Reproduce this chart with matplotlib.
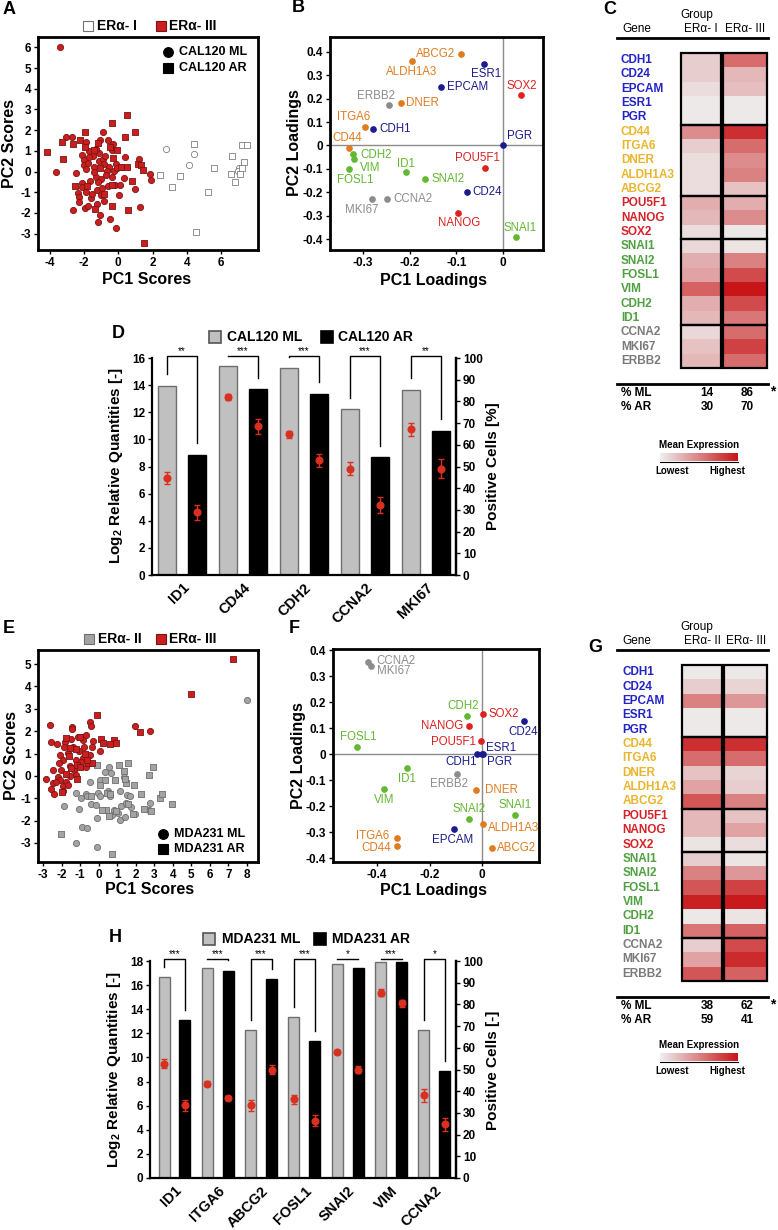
import matplotlib
matplotlib.use('Agg')
import matplotlib.pyplot as plt
from matplotlib.colors import LinearSegmentedColormap
from matplotlib.patches import Rectangle
from matplotlib.lines import Line2D
from matplotlib.ticker import FuncFormatter
from matplotlib.transforms import blended_transform_factory
import numpy as np

plt.rcParams['font.family'] = ['Liberation Sans', 'DejaVu Sans']
plt.rcParams['font.weight'] = 'bold'
plt.rcParams['axes.unicode_minus'] = False
plt.rcParams['mathtext.fontset'] = 'custom'
plt.rcParams['mathtext.rm'] = 'Liberation Sans'
plt.rcParams['mathtext.bf'] = 'Liberation Sans:bold'

W, H = 778, 1230

# ---------------- data ----------------
genes = ["CDH1", "CD24", "EPCAM", "ESR1", "PGR",
         "CD44", "ITGA6", "DNER", "ALDH1A3", "ABCG2",
         "POU5F1", "NANOG", "SOX2",
         "SNAI1", "SNAI2", "FOSL1", "VIM", "CDH2", "ID1",
         "CCNA2", "MKI67", "ERBB2"]
gene_group = ["epi"] * 5 + ["stem"] * 5 + ["pluri"] * 3 + ["emt"] * 6 + ["prol"] * 3
group_sizes = [5, 5, 3, 6, 3]

# panel A: CAL120 PCA scores
a_ml_iii = [(-3.40, 6.0), (-3.65, -0.03), (-3.03, 1.66), (-2.68, 1.66), (-1.86, 1.42), (-2.47, -0.08),
            (-2.64, -1.85), (-2.33, -1.05), (-2.29, -1.23), (-2.29, -1.48), (-2.14, -0.55), (-2.10, 0.80),
            (-2.02, 0.56), (-1.98, 0.32), (-1.96, -1.74), (-1.77, -1.67), (-1.86, 0.12), (-1.79, 0.43),
            (-1.67, -0.46), (-1.59, -1.30), (-1.53, -1.07), (-1.46, 0.77), (-1.40, 0.23), (-1.32, -0.25),
            (-1.24, -0.87), (-1.20, -2.45), (-1.24, -1.56), (-1.15, 0.89), (-1.11, 0.52), (-1.09, 1.50),
            (-1.03, -0.37), (-0.99, -1.15), (-1.05, -2.09), (-0.87, 0.62), (-0.89, 1.90), (-0.78, 0.77),
            (-0.83, -1.40), (-0.60, -0.72), (-0.54, 0.23), (-0.47, -2.28), (-0.39, 1.04), (-0.35, -0.27),
            (-0.31, 1.31), (-0.21, -0.67), (-0.16, 0.35), (-0.25, 0.03), (-0.12, -2.73), (-0.06, 0.15),
            (0.12, -0.67), (0.23, 0.24), (0.40, 0.69), (0.33, -0.33), (0.95, -0.83), (1.20, 0.61),
            (1.24, -1.69), (1.86, -0.14), (1.90, -0.40), (-1.71, 1.01), (-1.28, 1.09), (-0.58, 1.50),
            (-1.71, 0.72), (-2.14, -0.75), (-0.85, 0.35), (-1.44, 0.0), (-0.66, 0.03), (0.04, -1.15),
            (-0.74, -0.17), (-1.17, -0.52), (-0.93, -0.80), (-1.90, -1.0)]
a_ar_iii = [(-4.17, 0.94), (-3.30, 1.42), (-3.22, 0.59), (-2.64, 1.31), (-2.21, 1.53), (-1.92, 1.90),
            (-2.52, -0.69), (-1.94, 1.17), (-1.83, -0.68), (-1.44, 1.06), (-1.38, -1.80), (-1.18, 1.38),
            (-1.07, 0.16), (-0.85, -1.07), (-0.50, 1.19), (-0.35, 2.33), (-0.31, 0.66), (-0.37, -0.63),
            (-0.37, -1.68), (-0.08, 1.04), (0.17, 0.20), (0.39, 1.66), (0.50, 2.74), (0.52, 0.20),
            (0.78, -0.47), (0.97, 1.90), (0.56, -1.85), (1.15, 0.37), (1.30, 0.33), (1.44, 0.08),
            (1.48, -3.45)]
a_ml_i = [(2.78, 1.10), (4.41, 0.84), (4.14, 0.34), (7.02, 0.16), (6.96, 0.04)]
a_ar_i = [(4.41, 1.32), (5.57, 0.15), (2.41, -0.18), (3.13, -0.75), (3.57, -0.23), (5.21, -0.99),
          (4.50, -2.92), (6.62, 0.76), (7.20, 1.27), (7.49, 1.30), (7.34, 0.47), (7.18, 0.18),
          (6.58, -0.12), (7.09, -0.14), (6.80, -0.51)]

# panel B: CAL120 loadings (gene order)
b_pc1 = [-0.279, -0.076, -0.132, -0.041, 0.0, -0.331, -0.296, -0.219, -0.196, -0.089, -0.039,
         -0.097, 0.039, 0.029, -0.167, -0.331, -0.319, -0.322, -0.209, -0.249, -0.281, -0.244]
b_pc2 = [0.07, -0.197, 0.25, 0.35, 0.0, -0.01, 0.08, 0.18, 0.36, 0.39, -0.098,
         -0.289, 0.214, -0.39, -0.145, -0.10, -0.058, -0.035, -0.114, -0.23, -0.23, 0.175]

# panel C heatmap (0 = lowest, 1 = highest)
c_er_i = [0.15, 0.15, 0.08, 0.02, 0.02, 0.45, 0.15, 0.08, 0.08, 0.08, 0.30,
          0.25, 0.08, 0.10, 0.30, 0.35, 0.65, 0.30, 0.25, 0.10, 0.20, 0.25]
c_er_iii = [0.60, 0.25, 0.22, 0.02, 0.02, 0.88, 0.60, 0.45, 0.50, 0.20, 0.30,
            0.45, 0.03, 0.05, 0.50, 0.75, 1.00, 0.75, 0.55, 0.60, 0.80, 0.60]
c_pct_ml = ["14", "86"]
c_pct_ar = ["30", "70"]

# panel D: CAL120 qPCR + positive cells
d_genes = ["ID1", "CD44", "CDH2", "CCNA2", "MKI67"]
d_ml = [13.97, 15.43, 15.26, 12.22, 13.65]
d_ar = [8.86, 13.68, 13.36, 8.69, 10.64]
d_ml_pct = [44.6, 82.0, 64.8, 49.0, 67.2]
d_ml_err = [2.7, 1.5, 1.5, 3.0, 3.0]
d_ar_pct = [28.9, 68.5, 52.8, 32.3, 49.0]
d_ar_err = [3.5, 3.5, 3.0, 3.5, 4.5]
d_sig = ["**", "***", "***", "***", "**"]

# panel E: MDA231 PCA scores
e_ml_iii = [(-2.64, 2.26), (-1.45, 2.18), (-1.42, 2.09), (-0.48, 2.41), (-0.43, 2.24), (1.96, 2.24),
            (2.79, 2.02), (-2.55, 1.53), (-2.24, 1.42), (-1.83, 1.53), (-1.47, 1.65), (-1.11, 1.74),
            (-0.91, 1.74), (-0.66, 1.81), (-0.84, 1.61), (-0.30, 1.57), (-1.88, 1.29), (-1.38, 1.29),
            (-0.81, 1.29), (-0.37, 1.29), (-2.10, 0.95), (-1.65, 1.02), (-1.06, 1.13), (0.06, 1.10),
            (-1.92, 0.72), (-1.24, 0.69), (-0.84, 0.80), (-0.45, 0.95), (-2.14, 0.57), (-1.53, 0.45),
            (-0.93, 0.60), (-0.63, 0.69), (-2.46, 0.28), (-2.01, 0.28), (-1.35, 0.25), (-0.66, 0.42),
            (-2.82, -0.14), (-2.19, -0.05), (-2.10, -0.17), (-1.56, -0.02), (-1.24, 0.05), (-2.46, -0.32),
            (-1.74, -0.29), (-2.28, -0.29), (-1.92, -0.44), (-2.55, -0.57), (-2.42, -0.80), (-1.92, -0.69),
            (-1.65, -0.39)]
e_ar_iii = [(-0.07, 2.72), (2.22, 1.97), (7.25, 5.24), (4.97, 3.66), (-1.74, 1.71), (-1.02, 1.75),
            (0.15, 1.65), (0.81, 1.59), (0.96, 1.47), (0.60, 1.44), (0.24, 1.47), (-1.53, 1.23),
            (-1.20, 1.21), (-1.60, 0.87), (-0.75, 0.98), (-1.49, 0.35), (-1.17, 0.50), (-0.55, 0.57),
            (-0.37, 0.57), (-1.74, 0.10), (-1.17, -0.14), (-1.96, -0.74), (-0.63, 0.72), (-1.02, 0.42)]
e_ml_ii = [(8.0, 3.41), (-1.88, -1.36), (-1.24, -0.77), (-1.06, -1.48), (-0.70, -0.80), (-0.63, -0.89),
           (-0.93, -0.99), (-0.39, -1.24), (-0.12, -1.29), (-0.45, -0.29), (-0.03, -0.77), (0.06, -0.89),
           (0.09, -0.17), (0.35, 0.16), (0.56, 0.40), (0.69, 0.13), (0.51, -0.69), (0.60, -0.89),
           (0.71, -1.74), (0.84, -1.51), (-0.09, -1.89), (-0.88, -2.29), (-0.61, -2.35), (-1.20, -3.0),
           (-0.07, -3.18), (1.35, -0.05), (1.22, -1.33), (1.17, -1.99), (1.46, -1.21), (1.77, -1.39),
           (1.95, -1.69), (2.76, -1.20), (2.72, -1.51), (1.14, -0.69), (1.53, -0.84), (1.67, -0.89),
           (1.05, -1.66), (1.41, -1.84)]
e_ar_ii = [(-2.01, -2.59), (0.71, -3.48), (-0.09, 0.50), (0.33, -0.17), (0.89, -0.17), (1.08, 0.48),
           (1.59, 0.57), (1.35, 0.20), (1.50, -0.32), (1.41, -0.14), (1.90, -0.41), (2.94, 0.38),
           (2.72, 0.05), (2.31, -0.80), (3.29, -0.99), (3.42, -0.81), (3.98, -1.26), (2.45, -1.46),
           (2.85, -1.59), (1.59, -1.26), (1.83, -1.69), (0.06, -0.39), (0.45, -0.77), (0.42, -1.51),
           (0.20, -1.54), (0.56, -1.81), (0.96, -1.59), (0.60, -0.80), (-0.39, -0.89)]

# panel F: MDA231 loadings (gene order)
f_pc1 = [-0.02, 0.159, -0.106, 0.0, 0.004, -0.326, -0.326, -0.024, 0.005, 0.037, -0.004,
         -0.05, 0.003, 0.125, -0.05, -0.478, -0.374, -0.057, -0.287, -0.435, -0.424, -0.097]
f_pc2 = [0.0, 0.128, -0.29, 0.0, 0.0, -0.353, -0.324, -0.138, -0.27, -0.363, 0.052,
         0.108, 0.155, -0.235, -0.25, 0.026, -0.135, 0.147, -0.053, 0.355, 0.34, -0.076]

# panel G heatmap
g_er_ii = [0.02, 0.15, 0.50, 0.02, 0.02, 0.88, 0.60, 0.20, 0.35, 0.70, 0.25,
           0.25, 0.05, 0.15, 0.50, 0.70, 0.95, 0.03, 0.55, 0.15, 0.35, 0.70]
g_er_iii = [0.03, 0.12, 0.40, 0.02, 0.02, 0.88, 0.60, 0.12, 0.15, 0.50, 0.20,
            0.35, 0.08, 0.05, 0.40, 0.80, 0.98, 0.05, 0.65, 0.75, 0.90, 0.65]
g_pct_ml = ["38", "62"]
g_pct_ar = ["59", "41"]

# panel H: MDA231 qPCR + positive cells
h_genes = ["ID1", "ITGA6", "ABCG2", "FOSL1", "SNAI2", "VIM", "CCNA2"]
h_ml = [16.67, 17.4, 12.25, 13.35, 17.75, 17.9, 12.25]
h_ar = [13.1, 17.2, 16.5, 11.37, 17.4, 17.95, 8.85]
h_ml_pct = [52.7, 43.5, 33.6, 36.3, 58.0, 85.4, 38.2]
h_ml_err = [2.0, 1.0, 2.5, 2.0, 1.0, 1.5, 3.0]
h_ar_pct = [33.6, 36.9, 49.9, 26.4, 49.9, 80.5, 24.7]
h_ar_err = [2.5, 1.0, 2.0, 2.5, 1.5, 1.5, 3.0]
h_sig = ["***", "***", "***", "***", "*", "***", "*"]

# label placement for loadings plots: (dx px, dy px, ha)
b_lab = {"CDH1": (6, 0, 'left'), "CD24": (5, 0, 'left'), "EPCAM": (6, 0, 'left'),
         "ESR1": (2, -10, 'center'), "PGR": (4, 9, 'left'), "CD44": (-1, 10, 'center'),
         "ITGA6": (-11, 10, 'center'), "DNER": (5, 0, 'left'), "ALDH1A3": (0, -11, 'center'),
         "ABCG2": (-6, 0, 'right'), "POU5F1": (-7, 10, 'center'), "NANOG": (1, -10, 'center'),
         "SOX2": (1, 9, 'center'), "SNAI1": (4, 9, 'center'), "SNAI2": (6, 0, 'left'),
         "FOSL1": (7, -11, 'center'), "VIM": (6, -9, 'left'), "CDH2": (8, -1, 'left'),
         "ID1": (0, 8, 'center'), "CCNA2": (7, 0, 'left'), "MKI67": (-10, -11, 'center'),
         "ERBB2": (-13, 9, 'center')}
f_lab = {"CDH1": (-16, -8, 'center'), "CD24": (-1, -11, 'center'), "EPCAM": (-2, -11, 'center'),
         "ESR1": (4, 6, 'left'), "PGR": (4, -8, 'left'), "CD44": (-5, -2, 'right'),
         "ITGA6": (-7, 2, 'right'), "DNER": (9, 0, 'left'), "ALDH1A3": (5, -4, 'left'),
         "ABCG2": (5, 0, 'left'), "POU5F1": (-5, -1, 'right'), "NANOG": (-6, 0, 'right'),
         "SOX2": (6, 0, 'left'), "SNAI1": (0, 10, 'center'), "SNAI2": (0, 10, 'center'),
         "FOSL1": (2, 10, 'center'), "VIM": (0, -11, 'center'), "CDH2": (-4, 10, 'center'),
         "ID1": (0, -11, 'center'), "CCNA2": (8, 1, 'left'), "MKI67": (6, -5, 'left'),
         "ERBB2": (-8, -10, 'center')}

LOAD_COL = {"epi": "#1c1c8c", "stem": "#e07b20", "pluri": "#dd2020", "emt": "#62b830", "prol": "#8c8c8c"}
HEAT_COL = {"epi": "#2323c8", "stem": "#e9b52c", "pluri": "#d42228", "emt": "#4fa040", "prol": "#7a7a7a"}
RED, RED_EC = "#cc1e1e", "#7a1515"
GRAY, GRAY_EC = "#a3a3a3", "#6e6e6e"
cmap = LinearSegmentedColormap.from_list("expr", ["#eeeeee", "#c81618"])

fig = plt.figure(figsize=(W / 100, H / 100), dpi=100)


def px_axes(l, t, r, b):
    return fig.add_axes([l / W, 1 - b / H, (r - l) / W, (b - t) / H])


def ftext(x, y, s, **kw):
    kw.setdefault('ha', 'center')
    kw.setdefault('va', 'center')
    return fig.text(x / W, 1 - y / H, s, **kw)


def fmarker(x, y, marker, fc, ec, ms=6.5):
    fig.add_artist(Line2D([x / W], [1 - y / H], marker=marker, ms=ms, mfc=fc, mec=ec, mew=0.8,
                          ls='none', transform=fig.transFigure))


def fbox(x, y, w, h, fc, ec):
    fig.add_artist(Rectangle((x / W, 1 - (y + h) / H), w / W, h / H, fc=fc, ec=ec, lw=1.2,
                             transform=fig.transFigure))


def fline(x0, x1, y, lw=2):
    fig.add_artist(Line2D([x0 / W, x1 / W], [1 - y / H, 1 - y / H], color='black', lw=lw,
                          transform=fig.transFigure))


def fmt0(v, _):
    return '0' if abs(v) < 1e-9 else ('%g' % round(v, 2))


def score_panel(box, xlim, ylim, xticks, yticks, sets):
    ax = px_axes(*box)
    for pts, marker, fc, ec in sets:
        a = np.array(pts)
        ax.scatter(a[:, 0], a[:, 1], s=20 if marker == 'o' else 18, marker=marker, c=fc,
                   edgecolors=ec, linewidths=0.6, zorder=3)
    ax.set_xlim(*xlim)
    ax.set_ylim(*ylim)
    ax.set_xticks(xticks)
    ax.set_yticks(yticks)
    for sp in ax.spines.values():
        sp.set_linewidth(2)
    ax.tick_params(labelsize=8.5, width=1, length=3, pad=2)
    return ax


def loading_panel(box, pc1, pc2, lab, xlim, ylim, xticks, yticks):
    ax = px_axes(*box)
    ax.axhline(0, color='#8c8c8c', lw=1, zorder=1)
    ax.axvline(0, color='#8c8c8c', lw=1, zorder=1)
    for g, grp, x, y in zip(genes, gene_group, pc1, pc2):
        c = LOAD_COL[grp]
        ax.plot(x, y, 'o', color=c, ms=3.8, zorder=3)
        dx, dy, ha = lab[g]
        ax.annotate(g, (x, y), xytext=(dx, dy), textcoords='offset pixels', ha=ha, va='center',
                    color=c, fontsize=8.3, fontweight='normal')
    ax.set_xlim(*xlim)
    ax.set_ylim(*ylim)
    ax.set_xticks(xticks)
    ax.set_yticks(yticks)
    ax.xaxis.set_major_formatter(FuncFormatter(fmt0))
    ax.yaxis.set_major_formatter(FuncFormatter(fmt0))
    for sp in ax.spines.values():
        sp.set_linewidth(2)
    ax.tick_params(labelsize=8.5, width=1, length=3, pad=2)
    return ax


def heat_panel(box, col_a, col_b, heads, pct_ml, pct_ar, ytop, cb_y):
    l, t, r, b = box
    ax = px_axes(l, t, r, b)
    n = len(genes)
    ax.imshow(np.array(col_a)[:, None], cmap=cmap, vmin=0, vmax=1, extent=(0, 1, n, 0), aspect='auto')
    ax.imshow(np.array(col_b)[:, None], cmap=cmap, vmin=0, vmax=1, extent=(1.05, 2.15, n, 0), aspect='auto')
    ax.set_xlim(0, 2.15)
    ax.set_ylim(n, 0)
    ax.axis('off')
    start = 0
    for size in group_sizes:
        for x0, w in [(0, 1), (1.05, 1.1)]:
            ax.add_patch(Rectangle((x0, start), w, size, fill=False, ec='black', lw=1.6, clip_on=False))
        start += size
    tr = blended_transform_factory(ax.transAxes, ax.transData)
    for i, (g, grp) in enumerate(zip(genes, gene_group)):
        ax.text(-0.70, i + 0.5, g, transform=tr, color=HEAT_COL[grp], fontsize=8.5, ha='left', va='center')
    c1, c2 = l + 20, l + 64
    ftext(697, ytop, "Group", fontsize=8.5, fontweight='normal')
    ftext(637, ytop + 14, "Gene", fontsize=8.5, fontweight='normal')
    ftext(c1, ytop + 14, heads[0], fontsize=8.5, fontweight='normal')
    ftext(c2, ytop + 14, heads[1], fontsize=8.5, fontweight='normal')
    fline(617, 768, ytop + 23, lw=2)
    fline(617, 768, b + 16, lw=2)
    ftext(621, b + 25, "% ML", fontsize=8.5, ha='left')
    ftext(621, b + 39, "% AR", fontsize=8.5, ha='left')
    ftext(707, b + 25, pct_ml[0], fontsize=8.5)
    ftext(747, b + 25, pct_ml[1], fontsize=8.5)
    ftext(707, b + 39, pct_ar[0], fontsize=8.5)
    ftext(747, b + 39, pct_ar[1], fontsize=8.5)
    ftext(773, b + 23, "*", fontsize=10)
    # colour key
    ftext(699, cb_y, "Mean Expression", fontsize=7)
    cax = px_axes(660, cb_y + 8, 738, cb_y + 16)
    cax.imshow(np.linspace(0, 1, 100)[None, :], cmap=cmap, aspect='auto', extent=(0, 1, 0, 1))
    cax.axis('off')
    fline(660, 738, cb_y + 17, lw=0.8)
    ftext(672, cb_y + 26, "Lowest", fontsize=7)
    ftext(727, cb_y + 26, "Highest", fontsize=7)


def expr_panel(box, names, ml, ar, ml_pct, ml_err, ar_pct, ar_err, sig, ymax, xlim, width, off):
    ax = px_axes(*box)
    x = np.arange(len(names))
    ax.bar(x - off, ml, width, color='#c0c0c0', edgecolor='#6e6e6e', lw=1, zorder=2)
    ax.bar(x + off, ar, width, color='black', edgecolor='black', lw=1, zorder=2)
    ax.set_xlim(*xlim)
    ax.set_ylim(0, ymax)
    ax.set_yticks(np.arange(0, ymax + 1, 2))
    ax.set_xticks(x)
    ax.set_xticklabels(names, rotation=45, ha='right', rotation_mode='anchor', fontsize=10.5)
    ax.tick_params(axis='x', length=0, pad=4)
    ax.tick_params(axis='y', labelsize=8.5, width=1, length=3, pad=2)
    ax.spines['top'].set_visible(False)
    for s in ('left', 'bottom', 'right'):
        ax.spines[s].set_linewidth(1.6)
    top = ymax * 1.007
    for i, s in enumerate(sig):
        lo_l = min(ml[i] + 0.85, top)
        lo_r = min(ar[i] + 0.85, top)
        ax.plot([i - off, i - off, i + off, i + off], [lo_l, top, top, lo_r], color='black', lw=1,
                clip_on=False, zorder=4)
        ax.text(i, top, s, ha='center', va='bottom', fontsize=7, fontweight='normal')
    ax2 = ax.twinx()
    ax2.set_ylim(0, 100)
    ax2.set_yticks(np.arange(0, 101, 10))
    ax2.tick_params(axis='y', labelsize=8.5, width=1, length=3, pad=2)
    for s in ('top', 'left', 'bottom'):
        ax2.spines[s].set_visible(False)
    ax2.spines['right'].set_linewidth(1.6)
    for xs, p, e in [(x - off, ml_pct, ml_err), (x + off, ar_pct, ar_err)]:
        ax2.errorbar(xs, p, yerr=e, fmt='o', ms=4.8, color='#d9301f', ecolor='#d9301f',
                     elinewidth=1, capsize=2, capthick=1, zorder=5)
    return ax


# ---------------- A ----------------
score_panel((38, 37, 258, 250), (-4.68, 8.14), (-3.79, 6.5), range(-4, 7, 2), range(-3, 7),
            [(a_ml_iii, 'o', RED, RED_EC), (a_ar_iii, 's', RED, RED_EC),
             (a_ml_i, 'o', 'white', '#808080'), (a_ar_i, 's', 'white', '#808080')])
ftext(3, 10, "A", fontsize=13, ha='left')
fmarker(88, 26, 's', 'white', '#707070', ms=7)
ftext(97, 26, "ERα- I", fontsize=10, ha='left')
fmarker(161, 26, 's', RED, RED_EC, ms=7)
ftext(169, 26, "ERα- III", fontsize=10, ha='left')
fmarker(168, 52, 'o', 'black', 'black', ms=7)
ftext(179, 52, "CAL120 ML", fontsize=9, ha='left')
fmarker(168, 68, 's', 'black', 'black', ms=6.5)
ftext(179, 68, "CAL120 AR", fontsize=9, ha='left')
ftext(147, 280, "PC1 Scores", fontsize=11.5)
ftext(10, 143, "PC2 Scores", fontsize=11.5, rotation=90)

# ---------------- B ----------------
loading_panel((330, 37, 543, 250), b_pc1, b_pc2, b_lab, (-0.371, 0.086), (-0.447, 0.464),
              [-0.3, -0.2, -0.1, 0], np.arange(-0.4, 0.41, 0.1))
ftext(292, 8, "B", fontsize=13, ha='left')
ftext(433, 280, "PC1 Loadings", fontsize=11.5)
ftext(295, 143, "PC2 Loadings", fontsize=11.5, rotation=90)

# ---------------- C ----------------
heat_panel((681, 53, 767, 368), c_er_i, c_er_iii, ["ERα- I", "ERα- III"], c_pct_ml, c_pct_ar, 15, 445)
ftext(603, 9, "C", fontsize=13, ha='left')

# ---------------- D ----------------
expr_panel((152, 358, 456, 575), d_genes, d_ml, d_ar, d_ml_pct, d_ml_err, d_ar_pct, d_ar_err, d_sig,
           16, (-0.49, 4.49), 0.295, 0.246)
ftext(112, 333, "D", fontsize=13, ha='left')
fbox(209, 331, 12, 12, '#c0c0c0', '#555555')
ftext(227, 337, "CAL120 ML", fontsize=10, ha='left')
fbox(321, 331, 12, 12, 'black', 'black')
ftext(338, 337, "CAL120 AR", fontsize=10, ha='left')
ftext(116, 466, r"Log$_\mathbf{2}$ Relative Quantities [-]", fontsize=11, rotation=90)
ftext(493, 466, "Positive Cells [%]", fontsize=11, rotation=90)

# ---------------- E ----------------
score_panel((38, 650, 258, 862), (-3.27, 8.6), (-3.85, 5.63), range(-3, 9), range(-3, 6),
            [(e_ml_ii, 'o', GRAY, GRAY_EC), (e_ar_ii, 's', GRAY, GRAY_EC),
             (e_ml_iii, 'o', RED, RED_EC), (e_ar_iii, 's', RED, RED_EC)])
ftext(3, 628, "E", fontsize=13, ha='left')
fmarker(89, 639, 's', GRAY, GRAY_EC, ms=7)
ftext(98, 639, "ERα- II", fontsize=10, ha='left')
fmarker(161, 639, 's', RED, RED_EC, ms=7)
ftext(169, 639, "ERα- III", fontsize=10, ha='left')
fmarker(163, 834, 'o', 'black', 'black', ms=7)
ftext(174, 834, "MDA231 ML", fontsize=9, ha='left')
fmarker(163, 849, 's', 'black', 'black', ms=6.5)
ftext(174, 849, "MDA231 AR", fontsize=9, ha='left')
ftext(150, 889, "PC1 Scores", fontsize=11.5)
ftext(12, 756, "PC2 Scores", fontsize=11.5, rotation=90)

# ---------------- F ----------------
loading_panel((333, 649, 539, 862), f_pc1, f_pc2, f_lab, (-0.568, 0.217), (-0.415, 0.404),
              [-0.4, -0.2, 0], np.arange(-0.4, 0.41, 0.1))
ftext(289, 628, "F", fontsize=13, ha='left')
ftext(433, 890, "PC1 Loadings", fontsize=11.5)
ftext(298, 756, "PC2 Loadings", fontsize=11.5, rotation=90)

# ---------------- G ----------------
heat_panel((682, 665, 767, 981), g_er_ii, g_er_iii, ["ERα- II", "ERα- III"], g_pct_ml, g_pct_ar, 627, 1045)
ftext(588, 648, "G", fontsize=13, ha='left')

# ---------------- H ----------------
expr_panel((150, 961, 456, 1178), h_genes, h_ml, h_ar, h_ml_pct, h_ml_err, h_ar_pct, h_ar_err, h_sig,
           18, (-0.566, 6.5), 0.254, 0.242)
ftext(109, 937, "H", fontsize=13, ha='left')
fbox(203, 933, 12, 12, '#c0c0c0', '#555555')
ftext(222, 939, "MDA231 ML", fontsize=10, ha='left')
fbox(314, 933, 12, 12, 'black', 'black')
ftext(332, 939, "MDA231 AR", fontsize=10, ha='left')
ftext(114, 1070, r"Log$_\mathbf{2}$ Relative Quantities [-]", fontsize=11, rotation=90)
ftext(493, 1070, "Positive Cells [-]", fontsize=11, rotation=90)

fig.savefig('out.png', dpi=100)
